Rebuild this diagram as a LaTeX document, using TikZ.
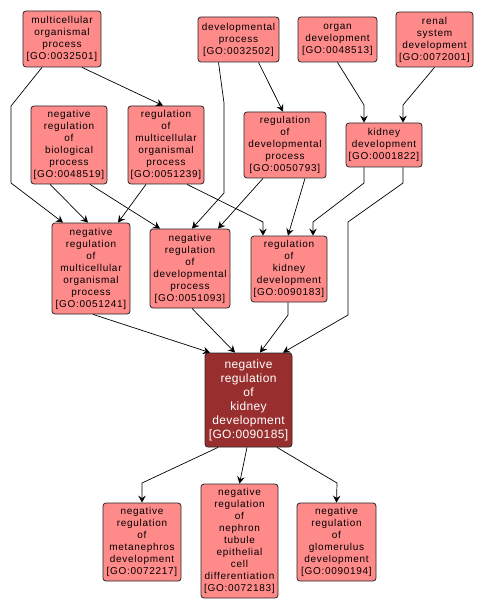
\documentclass[tikz,border=0pt]{standalone}
\usepackage{fontspec}
\setmainfont{Liberation Sans}
\newfontfamily\gofont[LetterSpace=7]{Liberation Sans}
\newfontfamily\gomainfont[LetterSpace=3]{Liberation Sans}
\usetikzlibrary{arrows.meta}
\definecolor{gopink}{RGB}{255,138,138}
\definecolor{godark}{RGB}{153,46,46}
\tikzset{
  gobox/.style={draw=black!85, line width=0.8pt, fill=gopink, rounded corners=3pt, inner sep=0pt,
    align=center, font=\gofont\fontsize{10}{12}\selectfont, text=black},
  mainbox/.style={gobox, fill=godark, text=white, font=\gomainfont\fontsize{12}{14}\selectfont},
  golink/.style={draw=black, line width=0.7pt, -{Stealth[length=7pt,width=7.5pt,inset=2.5pt]}}
}
\begin{document}
\begin{tikzpicture}[x=1pt,y=-1pt]
\useasboundingbox (0,0) rectangle (483,612);
\fill[white] (0,0) rectangle (483,612);

\node[gobox, minimum width=78, minimum height=56] (mop) at (62,39) {multicellular\\organismal\\process\\{[GO:0032501]}};
\node[gobox, minimum width=81, minimum height=45] (dp) at (238.5,39.5) {developmental\\process\\{[GO:0032502]}};
\node[gobox, minimum width=79, minimum height=45] (od) at (337.5,39.5) {organ\\development\\{[GO:0048513]}};
\node[gobox, minimum width=77, minimum height=55] (rsd) at (434.5,39.5) {renal\\system\\development\\{[GO:0072001]}};

\node[gobox, minimum width=76, minimum height=78] (nrbp) at (69,145) {negative\\regulation\\of\\biological\\process\\{[GO:0048519]}};
\node[gobox, minimum width=76, minimum height=78] (rmop) at (166,145) {regulation\\of\\multicellular\\organismal\\process\\{[GO:0051239]}};
\node[gobox, minimum width=82, minimum height=66] (rdp) at (285,145) {regulation\\of\\developmental\\process\\{[GO:0050793]}};
\node[gobox, minimum width=76, minimum height=44] (kd) at (384,145) {kidney\\development\\{[GO:0001822]}};

\node[gobox, minimum width=78, minimum height=91] (nrmop) at (91,268.5) {negative\\regulation\\of\\multicellular\\organismal\\process\\{[GO:0051241]}};
\node[gobox, minimum width=80, minimum height=79] (nrdp) at (190,268.5) {negative\\regulation\\of\\developmental\\process\\{[GO:0051093]}};
\node[gobox, minimum width=76, minimum height=66] (rkd) at (289,269) {regulation\\of\\kidney\\development\\{[GO:0090183]}};

\node[mainbox, minimum width=87, minimum height=94] (main) at (248.5,400) {negative\\regulation\\of\\kidney\\development\\{[GO:0090185]}};

\node[gobox, minimum width=78, minimum height=78] (meta) at (142,542) {negative\\regulation\\of\\metanephros\\development\\{[GO:0072217]}};
\node[gobox, minimum width=77, minimum height=114] (neph) at (239.5,541) {negative\\regulation\\of\\nephron\\tubule\\epithelial\\cell\\differentiation\\{[GO:0072183]}};
\node[gobox, minimum width=79, minimum height=78] (glom) at (336.5,542) {negative\\regulation\\of\\glomerulus\\development\\{[GO:0090194]}};

\draw[golink] ([xshift=20]mop.south) -- ([xshift=-3]rmop.north);
\draw[golink] ([xshift=-20]mop.south) -- (11,106) -- (11,183) -- ([xshift=-28]nrmop.north);
\draw[golink] ([xshift=-19]nrbp.south) -- ([xshift=-3]nrmop.north);
\draw[golink] ([xshift=21]nrbp.south) -- ([xshift=-30]nrdp.north);
\draw[golink] ([xshift=-20]rmop.south) -- ([xshift=27]nrmop.north);
\draw[golink] ([xshift=21]rmop.south) -- (263,222) -- ([xshift=-26]rkd.north);
\draw[golink] ([xshift=-20]dp.south) -- (224,103) -- (224,193) -- ([xshift=2]nrdp.north);
\draw[golink] ([xshift=-22]rdp.south) -- ([xshift=28]nrdp.north);
\draw[golink] ([xshift=20]dp.south) -- ([xshift=-2]rdp.north);
\draw[golink] ([xshift=20]rdp.south) -- ([xshift=-1]rkd.north);
\draw[golink] (od.south) -- (364,105) -- ([xshift=-20]kd.north);
\draw[golink] (rsd.south) -- (403,105) -- ([xshift=19]kd.north);
\draw[golink] ([xshift=-20]kd.south) -- (364,183) -- (313,222) -- ([xshift=24]rkd.north);
\draw[golink] ([xshift=19]kd.south) -- (403,183) -- (348,222) -- (348,315) -- ([xshift=34.5]main.north);
\draw[golink] ([xshift=2]nrmop.south) -- ([xshift=-38.5]main.north);
\draw[golink] ([xshift=2]nrdp.south) -- ([xshift=-13.5]main.north);
\draw[golink] ([xshift=-1]rkd.south) -- (288,315) -- ([xshift=11.5]main.north);
\draw[golink] ([xshift=-30.5]main.south) -- (142,483) -- (meta.north);
\draw[golink] ([xshift=-1.5]main.south) -- (neph.north);
\draw[golink] ([xshift=28.5]main.south) -- (337,483) -- (glom.north);
\end{tikzpicture}
\end{document}
